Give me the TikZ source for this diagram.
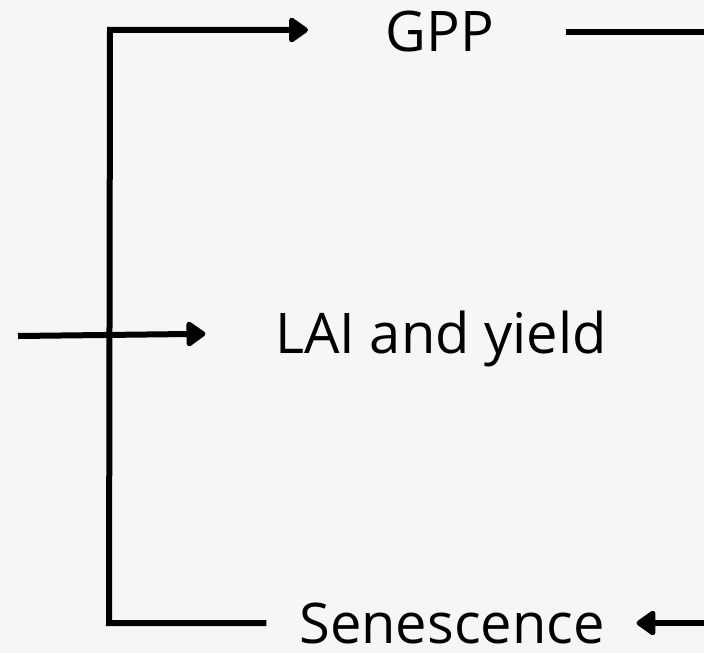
\documentclass[tikz,border=0pt]{standalone}
\usepackage{fontspec}
\setmainfont{Open Sans}
\usetikzlibrary{arrows.meta}
\definecolor{bg}{HTML}{F6F6F6}
\tikzset{
  conn/.style={line width=6bp, black},
  arr/.style={conn, -{Triangle[length=21bp, width=28bp, round]}},
  lbl/.style={inner sep=0pt, outer sep=0pt, anchor=base, font=\fontsize{56bp}{60bp}\selectfont},
}
\begin{document}
\begin{tikzpicture}[x=1bp, y=-1bp]
\fill[bg] (0,0) rectangle (704,653);
\useasboundingbox (0,0) rectangle (704,653);
\node[lbl] (gpp) at (440,52) {GPP};
\node[lbl] (lai) at (441,353) {LAI and yield};
\node[lbl] (sen) at (452,643) {Senescence};
\coordinate (tl) at (110,30);
\coordinate (bl) at (109,623);
\coordinate (ml) at (18,336);
\coordinate (tr) at (704,32);
\coordinate (br) at (704,623);
\draw[arr, shorten <=33bp, shorten >=78bp] (sen.west |- bl) -- (bl) -- (tl) -- (gpp.west |- tl);
\draw[conn, shorten <=72bp] (gpp.east |- tr) -- (tr);
\draw[arr, shorten >=70bp] (ml) -- (lai.west |- 0,333);
\draw[arr, shorten >=32bp] (br) -- (sen.east |- br);
\end{tikzpicture}
\end{document}
